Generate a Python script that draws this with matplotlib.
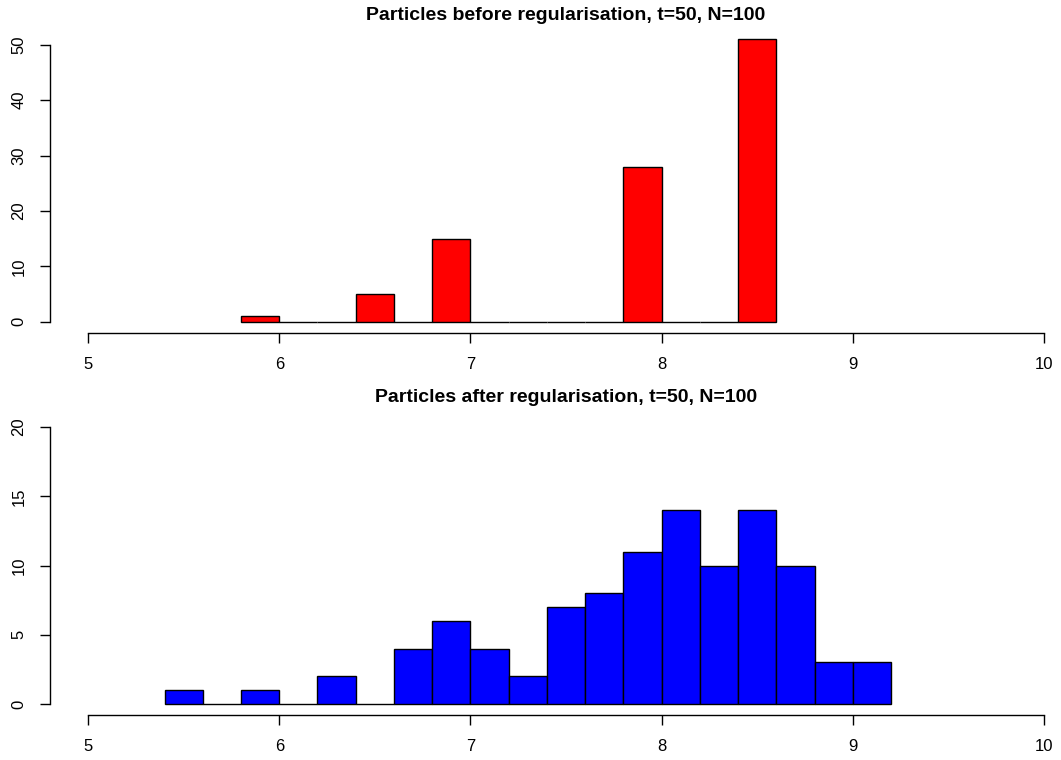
import numpy as np
import matplotlib
matplotlib.use("Agg")
import matplotlib.pyplot as plt

plt.rcParams['font.family'] = ['Liberation Sans', 'DejaVu Sans']

# Histogram data (bin width 0.2)
bin_width = 0.2
before_start = 5.8
before_counts = [1, 0, 0, 5, 0, 15, 0, 0, 0, 0, 28, 0, 0, 51]
after_start = 5.4
after_counts = [1, 0, 1, 0, 2, 0, 4, 6, 4, 2, 7, 8, 11, 14, 10, 14, 10, 3, 3]

x_ticks = [5, 6, 7, 8, 9, 10]
before_yticks = [0, 10, 20, 30, 40, 50]
after_yticks = [0, 5, 10, 15, 20]

W, H = 1061, 760
fig = plt.figure(figsize=(W / 100, H / 100), dpi=100)


def px_axes(left, top, right, bottom):
    return fig.add_axes([left / W, 1 - bottom / H, (right - left) / W, (bottom - top) / H])


def draw_panel(ax, start, counts, color, yticks, ymax, title, title_y):
    edges = start + bin_width * np.arange(len(counts))
    ax.bar(edges, counts, width=bin_width, align='edge', color=color,
           edgecolor='black', linewidth=1.0)
    ax.set_xlim(4.801, 10.031)
    ext = 0.04 * ymax
    ax.set_ylim(-ext, ymax + ext)
    for s in ['top', 'right']:
        ax.spines[s].set_visible(False)
    ax.spines['left'].set_bounds(yticks[0], yticks[-1])
    ax.spines['bottom'].set_bounds(x_ticks[0], x_ticks[-1])
    ax.spines['left'].set_linewidth(1.0)
    ax.spines['bottom'].set_linewidth(1.0)
    ax.set_xticks(x_ticks)
    ax.set_xticklabels([str(t) for t in x_ticks])
    ax.set_yticks(yticks)
    ax.set_yticklabels([str(t) for t in yticks], rotation=90, va='center')
    ax.tick_params(length=7, width=1.0, labelsize=12, pad=10)
    fig.text(566 / W, 1 - title_y / H, title, ha='center', va='center',
             fontsize=14, fontweight='bold')


ax1 = px_axes(50, 28, 1050, 333)
draw_panel(ax1, before_start, before_counts, '#ff0000', before_yticks, 51,
           'Particles before regularisation, t=50, N=100', 15)

ax2 = px_axes(50, 416, 1050, 715)
draw_panel(ax2, after_start, after_counts, '#0000ff', after_yticks, 20,
           'Particles after regularisation, t=50, N=100', 398)

fig.savefig('out.png', dpi=100)
